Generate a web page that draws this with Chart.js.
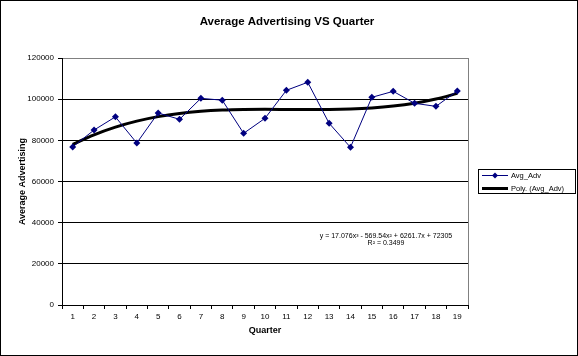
<!DOCTYPE html>
<html>
<head>
<meta charset="utf-8">
<script src="https://cdn.jsdelivr.net/npm/chart.js@4.4.1/dist/chart.umd.min.js"></script>
<style>
html,body{margin:0;padding:0;background:#fff;}
#wrap{position:relative;width:578px;height:356px;}
canvas{display:block;}
</style>
</head>
<body>
<div id="wrap"><canvas id="c" width="578" height="356"></canvas></div>
<script>
const quarters = ['1','2','3','4','5','6','7','8','9','10','11','12','13','14','15','16','17','18','19'];
const avgAdv = [76800, 85000, 91400, 78700, 93300, 90200, 100400, 99500, 83400, 90700, 104300, 108200, 88300, 76600, 100900, 103800, 98000, 96500, 104000];
const polyTrend = [78014, 82687, 86425, 89332, 91510, 93060, 94087, 94691, 94976, 95044, 94998, 94940, 94971, 95196, 95716, 96633, 98051, 100072, 102795];
const yTicks = [0, 20000, 40000, 60000, 80000, 100000, 120000];
const titleText = 'Average Advertising VS Quarter';
const xTitle = 'Quarter';
const yTitle = 'Average Advertising';
const seriesNames = ['Avg_Adv', 'Poly. (Avg_Adv)'];
const eqLines = ['y = 17.076x\u00B3 - 569.54x\u00B2 + 6261.7x + 72305', 'R\u00B2 = 0.3499'];

const FONT = '"Liberation Sans", Arial, sans-serif';

const decor = {
  id: 'decor',
  beforeDraw(chart) {
    const ctx = chart.ctx;
    ctx.save();
    ctx.fillStyle = '#fff';
    ctx.fillRect(0, 0, chart.width, chart.height);
    ctx.restore();
  },
  afterDraw(chart) {
    const ctx = chart.ctx;
    const a = chart.chartArea;
    ctx.save();
    // chart title
    ctx.fillStyle = '#000';
    ctx.font = 'bold 11.5px ' + FONT;
    ctx.textAlign = 'center';
    ctx.textBaseline = 'middle';
    ctx.fillText(titleText, 287, 21.5);
    // plot border right (gray)
    ctx.strokeStyle = '#808080';
    ctx.lineWidth = 1;
    ctx.beginPath();
    ctx.moveTo(Math.round(a.right) + 0.5, a.top);
    ctx.lineTo(Math.round(a.right) + 0.5, a.bottom);
    ctx.stroke();
    // outer border
    ctx.strokeStyle = '#000';
    ctx.strokeRect(0.5, 0.5, chart.width - 1, chart.height - 1);
    // equation text
    ctx.fillStyle = '#000';
    ctx.font = '7px ' + FONT;
    ctx.textAlign = 'center';
    ctx.textBaseline = 'middle';
    ctx.fillText(eqLines[0], a.left + 324, 236);
    ctx.fillText(eqLines[1], a.left + 324, 243.5);
    // legend
    const lx = 478, ly = 169, lw = 97, lh = 24;
    ctx.strokeStyle = '#000';
    ctx.lineWidth = 1;
    ctx.strokeRect(lx + 0.5, ly + 0.5, lw, lh);
    ctx.font = '7.5px ' + FONT;
    ctx.textAlign = 'left';
    ctx.strokeStyle = '#000080';
    ctx.beginPath();
    ctx.moveTo(482, 175.5);
    ctx.lineTo(508, 175.5);
    ctx.stroke();
    ctx.fillStyle = '#000080';
    ctx.beginPath();
    ctx.moveTo(495, 172.5);
    ctx.lineTo(498, 175.5);
    ctx.lineTo(495, 178.5);
    ctx.lineTo(492, 175.5);
    ctx.closePath();
    ctx.fill();
    ctx.fillStyle = '#000';
    ctx.fillText(seriesNames[0], 511, 175.5);
    ctx.strokeStyle = '#000';
    ctx.lineWidth = 3;
    ctx.beginPath();
    ctx.moveTo(482, 188.5);
    ctx.lineTo(508, 188.5);
    ctx.stroke();
    ctx.fillText(seriesNames[1], 511, 188.5);
    ctx.restore();
  }
};

new Chart(document.getElementById('c'), {
  type: 'line',
  data: {
    labels: quarters,
    datasets: [
      {
        label: seriesNames[1],
        data: polyTrend,
        borderColor: '#000',
        borderWidth: 3,
        pointRadius: 0,
        cubicInterpolationMode: 'monotone',
        fill: false,
        order: 2
      },
      {
        label: seriesNames[0],
        data: avgAdv,
        borderColor: '#000080',
        backgroundColor: '#000080',
        borderWidth: 1,
        pointStyle: 'rectRot',
        pointRadius: 3.5,
        pointBorderWidth: 0,
        pointBackgroundColor: '#000080',
        tension: 0,
        fill: false,
        order: 1
      }
    ]
  },
  options: {
    responsive: false,
    animation: false,
    devicePixelRatio: 1,
    layout: { padding: { left: 0, right: 110, top: 58, bottom: 0 } },
    plugins: {
      legend: { display: false },
      tooltip: { enabled: false },
      title: { display: false }
    },
    scales: {
      x: {
        type: 'category',
        offset: true,
        afterFit(s) { s.height = 51; },
        grid: {
          offset: true,
          drawOnChartArea: false,
          drawTicks: true,
          tickLength: 4,
          color: '#000'
        },
        border: { display: true, color: '#000', width: 1 },
        ticks: {
          color: '#000',
          font: { family: FONT, size: 8 },
          padding: 3,
          maxRotation: 0,
          autoSkip: false
        },
        title: {
          display: true,
          text: xTitle,
          color: '#000',
          font: { family: FONT, size: 9, weight: 'bold' },
          padding: { top: 0, bottom: 20 }
        }
      },
      y: {
        min: 0,
        max: 120000,
        afterFit(s) { s.width = 62; },
        afterBuildTicks(s) { s.ticks = yTicks.map(v => ({ value: v })); },
        grid: {
          color: (c) => (c.tick && c.tick.value === 120000) ? '#808080' : '#000',
          lineWidth: 1,
          drawTicks: true,
          tickLength: 4,
          tickColor: '#000'
        },
        border: { display: true, color: '#000', width: 1 },
        ticks: {
          color: '#000',
          font: { family: FONT, size: 8 },
          padding: 4,
          callback: (v) => String(v)
        },
        title: {
          display: true,
          text: yTitle,
          color: '#000',
          font: { family: FONT, size: 9, weight: 'bold' },
          padding: { top: 17, bottom: 0 }
        }
      }
    }
  },
  plugins: [decor]
});
</script>
</body>
</html>
